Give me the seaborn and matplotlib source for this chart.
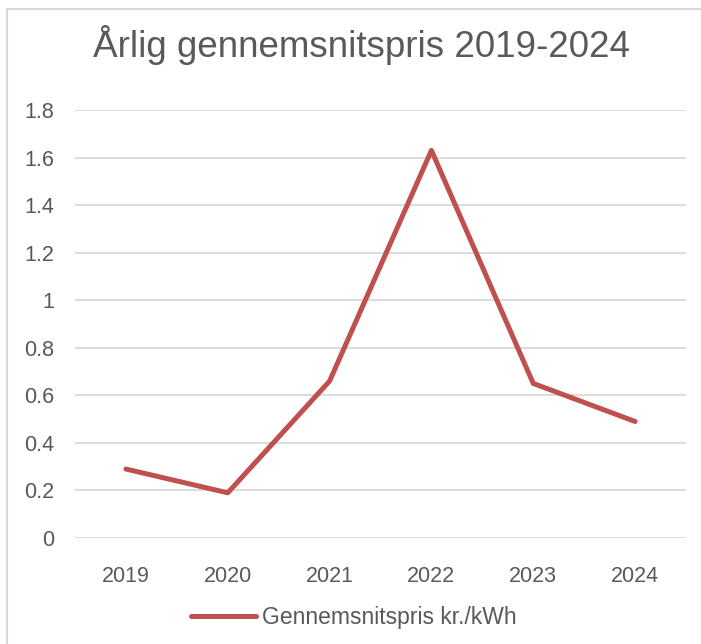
import matplotlib.pyplot as plt
import seaborn as sns
import pandas as pd
from matplotlib.patches import Rectangle

years = ["2019", "2020", "2021", "2022", "2023", "2024"]
prices = [0.29, 0.19, 0.66, 1.63, 0.65, 0.49]
series_name = "Gennemsnitspris kr./kWh"

df = pd.DataFrame({"year": years, "price": prices})

sns.set_style("white")
plt.rcParams['font.family'] = ['Liberation Sans', 'DejaVu Sans']
grey = '#595959'

fig = plt.figure(figsize=(7.01, 6.44), dpi=100)
ax = fig.add_axes([0.107, 0.1646, 0.8716, 0.6646])

sns.lineplot(data=df, x="year", y="price", color='#C0504D', linewidth=3.6,
             label=series_name, ax=ax, sort=False)

ax.set_xlim(-0.5, 5.5)
ax.set_ylim(0, 1.8)
ax.set_yticks([0, 0.2, 0.4, 0.6, 0.8, 1, 1.2, 1.4, 1.6, 1.8])
ax.set_yticklabels(["0", "0.2", "0.4", "0.6", "0.8", "1", "1.2", "1.4", "1.6", "1.8"])
ax.yaxis.grid(True, color='#D9D9D9', linewidth=1.3)
ax.set_axisbelow(True)
for s in ax.spines.values():
    s.set_visible(False)
ax.tick_params(axis='both', length=0, labelsize=15.5, colors=grey)
ax.tick_params(axis='x', pad=20)
ax.tick_params(axis='y', pad=15)
ax.set_xlabel("")
ax.set_ylabel("")

fig.text(0.515, 0.93, "Årlig gennemsnitspris 2019-2024", ha='center', va='center',
         fontsize=26.5, color=grey)

ax.legend(loc='center', bbox_to_anchor=(0.457, -0.185), frameon=False,
          fontsize=16.5, labelcolor=grey, handlelength=2.8, handletextpad=0.3)

fig.patches.append(Rectangle((7 / 701, -0.1), 1.2, (644 - 9) / 644 + 0.1,
                             transform=fig.transFigure, fill=False,
                             edgecolor='#D9D9D9', linewidth=1.5))

fig.savefig('out.png', dpi=100)
